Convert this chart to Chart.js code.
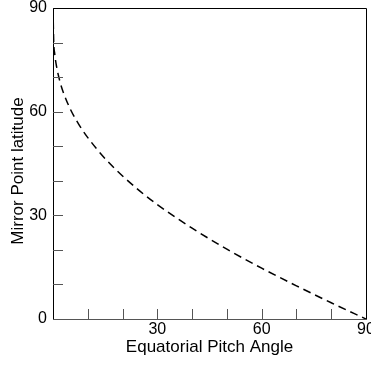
<!DOCTYPE html>
<html>
<head>
<meta charset="utf-8">
<script src="https://cdn.jsdelivr.net/npm/chart.js@4"></script>
<style>
  html, body { margin: 0; padding: 0; background: #fff; overflow: hidden; }
  #wrap { width: 371px; height: 366px; position: relative; }
</style>
</head>
<body>
<div id="wrap"><canvas id="c" width="371" height="366"></canvas></div>
<script>
// Mirror point latitude vs equatorial pitch angle
const pitchAngle = [0, 0.2, 0.5, 1, 2, 3, 5, 7.5, 10, 15, 20, 25, 30, 40, 50, 60, 70, 80, 90];
const mirrorLat = [90, 80.2, 76.7, 73.2, 68.7, 65.5, 60.7, 56.2, 52.5, 46.4, 41.4, 37.0, 33.1, 26.3, 20.2, 14.7, 9.6, 4.7, 0];

const xTickLabels = [30, 60, 90];
const yTickLabels = [0, 30, 60, 90];
const minorTicks = [10, 20, 30, 40, 50, 60, 70, 80];

const TICK_FONT = '16px "Liberation Sans", Arial, sans-serif';
const TITLE_FONT = '17px "Liberation Sans", Arial, sans-serif';

// draws the boxed frame, inward ticks and labels from the scales
const frame = {
  id: "frame",
  afterDraw(chart) {
    const { ctx, chartArea: a, scales: { x, y } } = chart;
    ctx.save();
    ctx.lineWidth = 1;
    ctx.strokeStyle = "#000";
    ctx.beginPath();
    ctx.moveTo(a.left + 0.5, a.bottom);
    ctx.lineTo(a.left + 0.5, a.top + 0.5);
    ctx.lineTo(a.right + 0.5, a.top + 0.5);
    ctx.lineTo(a.right + 0.5, a.bottom);
    ctx.stroke();
    ctx.strokeStyle = "#555";
    ctx.beginPath();
    ctx.moveTo(a.left, a.bottom + 0.5);
    ctx.lineTo(a.right + 1, a.bottom + 0.5);
    ctx.stroke();

    ctx.beginPath();
    minorTicks.forEach(v => {
      const px = Math.round(x.getPixelForValue(v)) + 0.5;
      ctx.moveTo(px, a.bottom);
      ctx.lineTo(px, a.bottom - 10);
      const py = Math.round(y.getPixelForValue(v)) + 0.5;
      ctx.moveTo(a.left, py);
      ctx.lineTo(a.left + 10, py);
    });
    ctx.stroke();

    ctx.fillStyle = "#000";
    ctx.font = TICK_FONT;
    ctx.textAlign = "center";
    ctx.textBaseline = "top";
    xTickLabels.forEach(v => ctx.fillText(String(v), x.getPixelForValue(v), a.bottom + 3));
    ctx.textAlign = "right";
    ctx.textBaseline = "middle";
    yTickLabels.forEach(v => ctx.fillText(String(v), a.left - 6, y.getPixelForValue(v)));

    ctx.font = TITLE_FONT;
    ctx.textAlign = "center";
    ctx.textBaseline = "middle";
    ctx.fillText("Equatorial Pitch Angle", (a.left + a.right) / 2, 347);
    ctx.translate(18, 171);
    ctx.rotate(-Math.PI / 2);
    ctx.fillText("Mirror Point latitude", 0, 0);
    ctx.restore();
  }
};

new Chart(document.getElementById("c"), {
  type: "line",
  data: {
    datasets: [{
      data: pitchAngle.map((a, i) => ({ x: a, y: mirrorLat[i] })),
      borderColor: "#000",
      borderWidth: 1.5,
      borderDash: [8, 5],
      pointRadius: 0,
      cubicInterpolationMode: "monotone",
      fill: false
    }]
  },
  options: {
    responsive: false,
    animation: false,
    layout: { padding: { left: 53, right: 5, top: 8, bottom: 47 } },
    plugins: { legend: { display: false }, tooltip: { enabled: false } },
    scales: {
      x: { type: "linear", min: 0, max: 90, display: false },
      y: { type: "linear", min: 0, max: 90, display: false }
    }
  },
  plugins: [frame]
});
</script>
</body>
</html>
